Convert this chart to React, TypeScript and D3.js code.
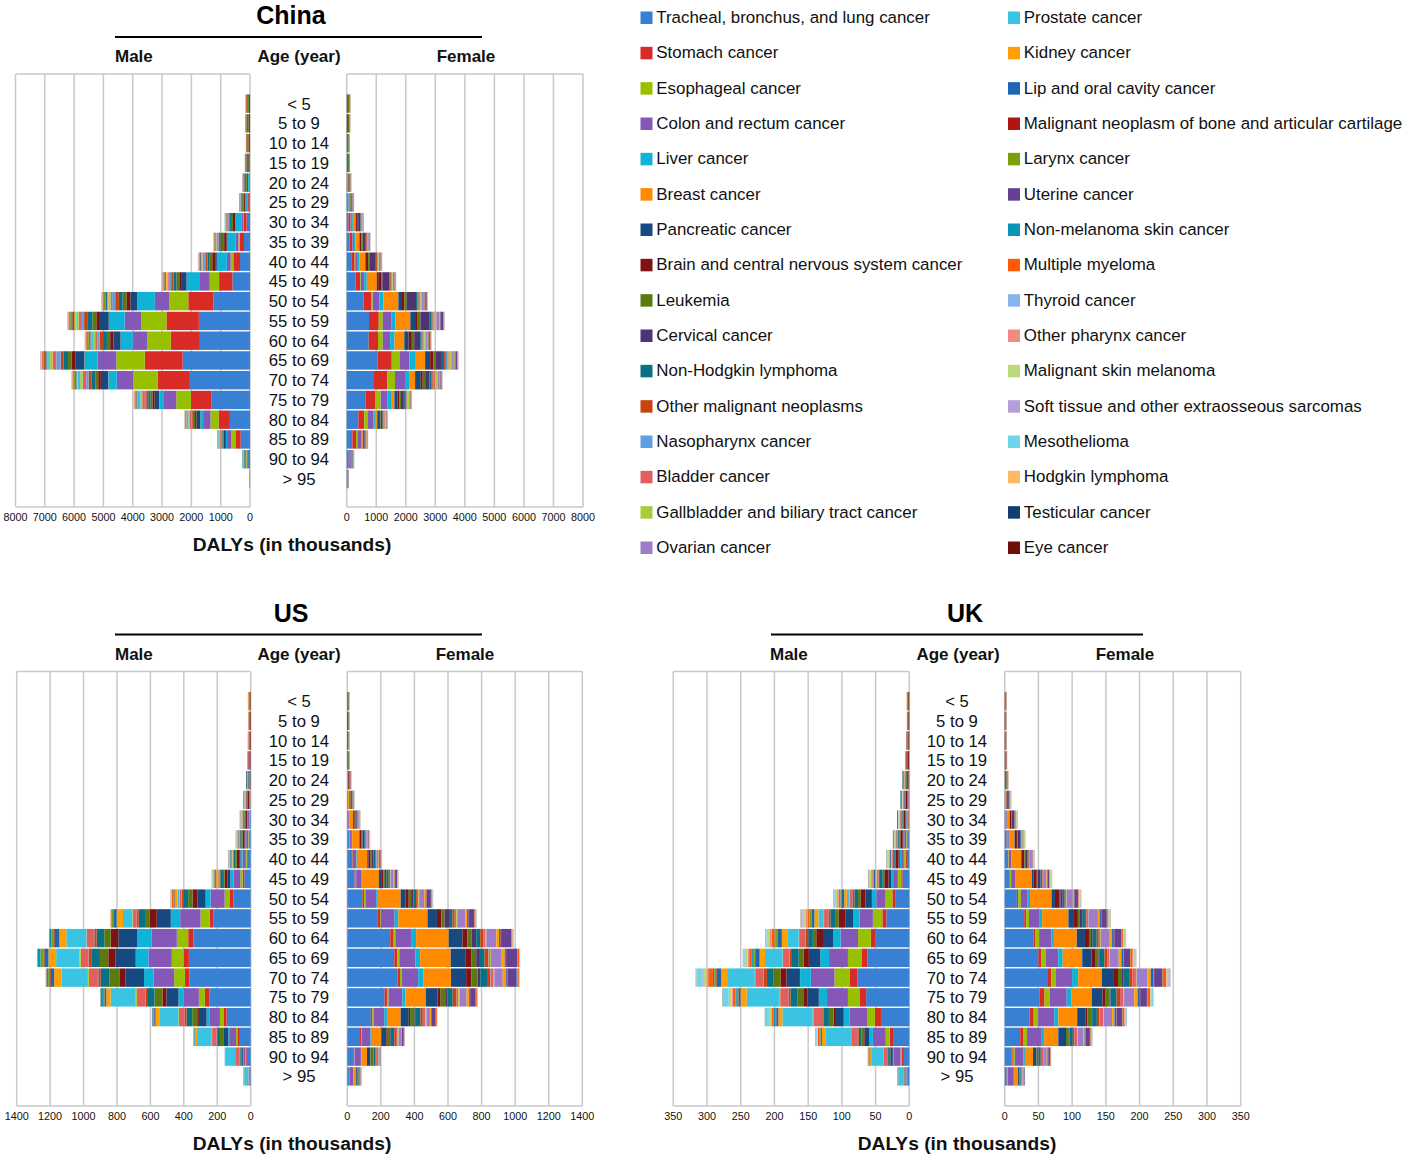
import * as d3 from "d3"

const ages = ["< 5", "5 to 9", "10 to 14", "15 to 19", "20 to 24", "25 to 29", "30 to 34", "35 to 39", "40 to 44", "45 to 49", "50 to 54", "55 to 59", "60 to 64", "65 to 69", "70 to 74", "75 to 79", "80 to 84", "85 to 89", "90 to 94", "> 95"]

const cancers = ["Tracheal, bronchus, and lung cancer", "Stomach cancer", "Esophageal cancer", "Colon and rectum cancer", "Liver cancer", "Breast cancer", "Pancreatic cancer", "Brain and central nervous system cancer", "Leukemia", "Cervical cancer", "Non-Hodgkin lymphoma", "Other malignant neoplasms", "Nasopharynx cancer", "Bladder cancer", "Gallbladder and biliary tract cancer", "Ovarian cancer", "Prostate cancer", "Kidney cancer", "Lip and oral cavity cancer", "Malignant neoplasm of bone and articular cartilage", "Larynx cancer", "Uterine cancer", "Non-melanoma skin cancer", "Multiple myeloma", "Thyroid cancer", "Other pharynx cancer", "Malignant skin melanoma", "Soft tissue and other extraosseous sarcomas", "Mesothelioma", "Hodgkin lymphoma", "Testicular cancer", "Eye cancer"]

const colors = ["#3880d4", "#d92b26", "#96c000", "#8558b8", "#0fb3d8", "#ff8a00", "#15497f", "#7f1212", "#5a7a0e", "#4e3472", "#0a7085", "#c94310", "#5ea0e3", "#e35e5e", "#a6cd3c", "#9e7cc9", "#3bc3e3", "#ffa000", "#2166b4", "#b21510", "#78a20c", "#664193", "#0a94b5", "#ff5a0a", "#86b4eb", "#ee8b87", "#bcd97a", "#b49fd8", "#6fd3ea", "#ffb866", "#123f6e", "#6e0f0a"]

// one row per age group, one value per cancer in legend order (DALYs, thousands)
const chinaMale = [
  [0,0,0,0,5,0,0,35,55,0,15,25,1,1,0,0,0,5,0,3,0,0,0,0,0,0,0,5,0,2,2,2],
  [0,0,0,0,5,0,0,45,60,0,15,20,1,0,0,0,0,2,0,8,0,0,0,0,0,0,0,5,0,3,1,1],
  [1,1,0,1,5,0,0,35,50,0,12,15,2,0,0,0,0,1,1,12,0,0,0,0,0,0,0,4,0,2,1,0],
  [3,3,0,3,10,0,0,40,60,0,12,15,4,0,0,0,0,1,1,15,0,0,0,1,0,0,0,4,0,2,3,0],
  [10,15,1,12,35,0,2,35,65,0,20,20,10,1,1,0,0,2,2,12,0,0,0,1,1,1,1,5,0,3,4,0],
  [30,35,3,25,75,0,5,40,55,0,20,25,20,2,2,0,0,3,4,9,1,0,0,2,1,2,1,6,0,3,4,0],
  [115,90,15,60,215,1,15,70,70,0,40,45,50,4,6,0,0,8,12,12,4,0,1,3,2,5,2,7,0,4,5,0],
  [205,150,40,90,280,2,30,85,75,0,55,60,70,8,12,0,1,12,20,12,8,0,1,6,3,8,3,8,1,4,4,0],
  [340,230,90,130,340,3,55,100,85,0,75,75,85,15,20,0,2,20,30,12,18,0,2,10,4,12,4,9,1,5,3,0],
  [600,455,320,330,455,4,160,90,95,0,95,85,85,30,35,0,4,30,35,15,30,0,3,15,4,15,4,10,2,5,2,0],
  [1250,855,650,490,590,6,240,137,125,0,130,125,105,55,60,0,10,45,45,18,50,0,5,25,5,25,5,12,2,5,2,1],
  [1745,1105,866,560,535,8,300,125,135,0,150,130,105,75,80,0,25,55,50,20,65,0,8,30,5,30,5,12,2,5,1,1],
  [1710,990,800,500,410,6,240,115,110,0,130,115,80,75,75,0,35,50,40,18,60,0,8,25,4,22,4,10,2,4,1,1],
  [2300,1290,970,640,445,8,310,115,130,0,160,90,150,130,90,0,60,50,40,40,40,0,10,30,5,20,5,15,5,5,2,2],
  [2050,1105,830,560,285,8,250,90,100,0,120,110,80,120,85,0,85,40,35,20,45,0,12,25,4,15,4,10,2,3,1,1],
  [1310,705,500,420,160,6,150,80,65,0,75,70,45,90,60,0,85,25,20,15,30,0,10,18,3,10,3,8,1,2,1,1],
  [685,390,275,250,90,4,135,45,40,0,40,35,20,60,30,0,65,12,10,8,15,0,8,8,2,5,2,4,1,1,0,0],
  [320,180,135,150,35,2,70,18,20,0,20,25,8,35,18,0,50,6,5,3,8,0,6,3,1,2,1,2,0,1,0,0],
  [80,35,25,30,8,1,15,4,5,0,5,7,2,12,5,0,28,2,1,1,2,0,3,1,0,1,0,1,0,0,0,0],
  [6,3,2,3,1,0,1,0,1,0,1,1,0,1,1,0,3,0,0,0,0,0,1,0,0,0,0,0,0,0,0,0],
]

const chinaFemale = [
  [0,0,0,0,4,0,0,30,50,0,10,20,0,1,0,1,0,5,0,2,0,0,0,0,0,0,0,5,0,1,0,2],
  [0,0,0,0,4,0,0,35,45,0,8,14,1,0,0,2,0,2,0,7,0,0,0,0,0,0,0,4,0,1,0,1],
  [1,1,0,1,4,0,0,25,35,0,6,10,1,0,0,4,0,1,1,10,0,0,0,0,1,0,0,3,0,1,0,0],
  [2,2,0,2,5,0,0,25,38,0,6,10,2,0,0,6,0,1,1,10,0,0,0,0,1,0,0,3,0,1,0,0],
  [6,10,1,8,10,5,1,22,40,5,8,12,4,0,1,8,0,1,1,7,0,1,0,0,2,0,1,3,0,1,0,0],
  [16,25,1,20,16,22,2,25,35,22,10,14,8,1,2,10,0,2,2,6,0,2,0,1,4,1,1,4,0,1,0,0],
  [60,65,4,45,35,90,8,40,40,75,16,24,16,2,6,18,0,4,5,6,1,6,1,2,6,2,2,5,0,2,0,0],
  [100,80,10,60,45,130,14,55,50,100,20,30,22,3,10,25,0,6,8,6,1,10,1,3,7,3,3,5,0,2,0,0],
  [175,95,20,85,60,195,25,70,60,180,32,38,30,5,18,40,0,10,10,6,2,18,1,6,8,4,3,5,1,2,0,0],
  [305,145,25,115,90,340,45,100,40,240,30,30,30,8,20,40,0,10,10,5,2,20,1,8,6,4,2,4,1,1,0,0],
  [565,260,55,225,135,510,90,113,80,315,45,45,45,15,40,75,0,20,15,8,3,50,2,18,8,5,3,6,1,2,0,0],
  [755,330,135,285,150,500,160,90,90,315,55,45,40,25,60,95,0,28,18,10,4,70,3,25,8,6,3,8,2,2,0,1],
  [745,315,160,250,150,330,145,110,80,205,45,35,30,25,55,65,0,20,15,8,3,40,3,18,6,4,2,6,1,1,0,1],
  [1050,475,260,340,215,315,170,113,80,205,75,60,50,45,95,80,0,28,25,12,5,35,5,22,8,6,3,8,2,2,0,1],
  [925,450,260,340,160,180,190,70,80,145,60,55,35,45,80,50,0,25,20,10,3,25,6,16,6,4,2,6,1,1,0,1],
  [645,315,190,235,115,115,100,70,50,100,35,35,20,35,55,25,0,15,12,6,2,10,6,8,3,2,1,3,0,1,0,0],
  [395,200,125,180,55,80,65,30,25,40,25,30,12,28,35,15,0,10,10,4,2,6,6,4,2,1,1,2,0,1,0,0],
  [190,125,45,135,22,28,30,12,10,22,12,20,5,20,15,6,0,5,6,2,1,3,6,2,1,1,0,1,0,0,0,0],
  [70,35,12,55,6,8,8,3,3,8,4,9,2,9,6,3,0,2,2,1,0,1,5,1,0,0,0,0,0,0,0,0],
  [10,12,3,22,2,3,2,1,1,3,1,4,0,4,2,1,0,1,1,0,0,0,3,0,0,0,0,0,0,0,0,0],
]

const usMale = [
  [0,0,0,0,1,0,0,5,4,0,1,2,0,0,0,0,0,3,0,0,0,0,0,0,0,0,0,1,0,0,0,0],
  [0,0,0,0,0,0,0,6,4,0,1,1,0,0,0,0,0,2,0,1,0,0,0,0,0,0,0,1,0,0,0,0],
  [0,0,0,0,0,0,0,5,4,0,1,1,0,0,0,0,0,1,0,2,0,0,0,0,0,0,0,1,0,1,1,0],
  [0,0,0,0,1,0,0,4,5,0,2,1,0,0,0,0,0,0,0,3,0,0,0,0,0,0,0,1,0,1,2,0],
  [0,0,0,1,1,0,0,5,6,0,3,2,0,0,0,0,0,0,0,2,0,0,0,0,0,0,1,1,0,2,4,0],
  [1,1,1,3,2,0,1,7,5,0,5,3,0,0,0,0,0,1,1,1,0,0,0,0,0,1,2,2,0,2,4,0],
  [4,2,2,8,4,0,2,10,6,0,6,3,1,1,0,0,0,2,2,1,0,0,1,0,0,1,3,2,0,2,2,0],
  [9,3,3,12,6,0,4,12,6,0,8,4,1,1,1,0,0,3,3,1,1,0,1,1,0,2,3,2,0,2,1,0],
  [18,5,6,20,12,0,8,14,7,0,10,4,1,3,1,0,1,5,5,1,1,0,2,2,0,3,3,2,0,1,1,0],
  [38,10,14,40,20,0,16,18,10,0,16,5,1,6,1,0,3,9,5,1,2,0,3,4,0,4,4,3,1,1,0,0],
  [104,20,32,84,30,0,48,30,26,0,30,8,2,12,2,0,10,14,4,2,4,0,3,6,0,4,4,2,1,1,0,0],
  [222,24,54,122,56,0,84,44,26,0,38,10,2,22,4,0,56,38,16,4,10,0,2,4,0,1,1,0,0,0,0,0],
  [342,32,68,150,86,0,114,46,38,0,46,14,2,42,3,0,120,42,28,4,16,0,12,1,0,1,0,0,0,0,0,0],
  [370,32,70,140,76,0,122,42,50,0,52,14,2,46,8,0,140,46,24,4,20,0,18,1,0,1,0,0,0,0,0,0],
  [366,28,64,124,56,0,112,36,58,0,54,14,2,54,6,0,158,44,20,4,12,0,10,2,0,1,1,1,1,0,0,0],
  [248,26,36,90,32,0,72,24,48,0,44,10,2,48,8,0,150,26,10,2,8,0,14,1,0,1,0,1,1,0,0,0],
  [144,16,24,64,16,0,46,10,30,0,34,10,1,34,4,0,114,22,8,1,3,0,8,1,0,0,0,1,0,0,0,0],
  [70,10,8,36,10,0,26,4,20,0,16,4,1,26,2,0,88,12,3,0,1,0,5,0,0,0,0,1,0,0,0,0],
  [24,4,3,10,3,0,7,2,7,0,6,2,0,20,0,0,60,3,1,0,0,0,3,0,0,0,0,0,0,0,0,0],
  [3,1,0,3,0,0,1,0,1,0,1,1,0,2,0,0,26,1,0,0,0,0,3,0,0,0,0,0,0,0,0,0],
]

const usFemale = [
  [0,0,0,0,1,0,0,5,3,0,1,1,0,0,0,0,0,3,0,0,0,0,0,0,0,0,0,1,0,0,0,0],
  [0,0,0,0,0,0,0,5,4,0,1,1,0,0,0,0,0,1,0,1,0,0,0,0,0,0,0,1,0,0,0,0],
  [0,0,0,0,0,0,0,4,3,0,1,1,0,0,0,1,0,0,0,2,0,0,0,0,0,0,0,1,0,1,0,0],
  [0,0,0,0,1,0,0,4,4,0,1,1,0,0,0,1,0,0,0,2,0,0,0,0,0,0,0,1,0,1,0,0],
  [0,0,0,1,1,2,0,5,5,1,2,2,0,0,0,2,0,0,0,1,0,0,0,0,1,0,2,1,0,2,0,0],
  [1,0,0,3,1,7,1,6,4,5,3,2,0,0,0,3,0,1,0,1,0,1,0,0,1,0,3,2,0,1,0,0],
  [5,1,0,7,1,20,1,9,4,8,4,3,0,0,0,5,0,1,1,1,0,2,0,0,1,0,3,2,0,1,0,0],
  [12,2,1,12,2,42,3,11,5,11,6,4,0,1,1,7,0,2,1,1,0,4,0,1,1,1,3,2,0,1,0,0],
  [28,4,1,20,4,62,7,13,7,11,8,5,0,1,2,12,0,3,2,1,0,7,0,2,1,1,3,2,0,1,0,0],
  [44,6,3,30,5,100,14,12,10,10,13,7,0,2,3,17,0,5,2,1,1,11,0,3,1,1,3,2,0,1,0,0],
  [90,10,8,64,10,136,30,18,14,14,16,10,0,4,4,30,0,8,4,2,1,25,0,5,1,1,3,3,0,1,0,0],
  [182,14,4,82,22,174,56,26,20,26,20,14,1,8,6,48,0,10,5,2,1,36,1,6,1,1,2,2,1,1,0,0],
  [256,20,10,98,26,194,82,30,24,28,24,20,2,8,6,60,0,16,8,3,1,60,2,6,1,1,2,2,1,1,0,0],
  [280,18,12,96,28,182,90,32,30,22,28,22,2,8,6,60,0,22,3,4,1,66,3,8,1,1,2,2,1,0,0,0],
  [300,14,12,96,30,166,90,32,36,16,40,20,2,14,8,50,0,18,6,3,1,55,5,8,1,1,1,2,1,0,0,0],
  [222,14,10,82,18,122,70,18,32,8,32,20,1,12,8,42,0,14,4,2,1,32,4,6,1,1,1,1,0,0,0,0],
  [140,10,8,62,16,82,48,8,26,4,32,14,1,14,6,22,0,6,4,1,0,22,3,5,0,0,1,1,0,0,0,0],
  [76,8,2,52,8,56,30,4,20,4,20,10,0,10,6,14,0,4,2,0,0,10,3,2,0,0,0,1,0,0,0,0],
  [36,6,1,38,4,32,20,2,16,2,10,8,0,8,3,6,0,1,1,0,0,2,1,1,0,0,0,0,0,0,0,0],
  [12,2,0,22,1,16,8,1,5,0,4,4,0,4,1,1,0,0,0,0,0,1,2,0,0,0,0,0,0,0,0,0],
]

const ukMale = [
  [0,0,0,0,0,0,0,1.5,1,0,0.5,0.5,0,0,0,0,0,0.3,0,0,0,0,0,0,0,0,0,0.2,0,0,0,0],
  [0,0,0,0,0,0,0,1.5,1,0,0.4,0.3,0,0,0,0,0,0,0,0.3,0,0,0,0,0,0,0,0.2,0,0,0,0],
  [0,0,0,0,0,0,0,1.5,1.2,0,0.4,0.3,0,0,0,0,0,0,0,0.8,0,0,0,0,0,0,0,0.3,0,0.2,0.2,0],
  [0.1,0,0,0.1,0.1,0,0,1.5,1.5,0,0.5,0.3,0,0,0,0,0,0,0,1,0,0,0,0,0,0,0.1,0.3,0,0.3,0.5,0],
  [0.2,0.2,0.1,0.5,0.2,0,0,2,1.5,0,0.8,0.5,0,0.1,0,0,0,0.1,0.1,0.7,0,0,0,0,0,0.1,0.5,0.5,0,0.5,1.5,0],
  [0.4,0.4,0.3,1,0.4,0,0.2,2.5,1.2,0,1,0.7,0,0.2,0,0,0,0.3,0.2,0.4,0,0,0,0,0,0.1,1,0.6,0.1,0.5,1.5,0],
  [0.8,0.8,0.8,2,0.7,0,0.4,3.2,1.4,0,1.4,0.8,0.1,0.3,0,0,0,0.4,0.4,0.3,0.1,0,0.1,0.1,0,0.2,1.5,0.6,0.1,0.5,1,0.1],
  [1.8,1.2,1.6,3,1.2,0,0.9,3.6,1.4,0,1.8,1,0.1,0.5,0.1,0,0,0.6,0.7,0.3,0.2,0,0.1,0.2,0,0.5,1.6,0.6,0.1,0.4,0.7,0.1],
  [3.5,1.6,3,4,2,0,1.8,4,1.6,0,2.4,1.2,0.1,0.8,0.1,0,0.2,1,1.2,0.2,0.3,0,0.1,0.4,0,0.8,1.8,0.7,0.2,0.3,0.4,0.1],
  [10,2,5,7,3,0,4,6,2.5,0,4,2,0.2,2,0.2,0,0.8,2,2.2,0.3,0.8,0,0.2,0.9,0.1,1.5,2.5,0.8,0.3,0.3,0.3,0.1],
  [21,4,11,13,6.5,0,9.5,7.5,3.5,0,5.5,3,0.3,3.5,0.3,0,4,4,3.5,0.5,1.5,0,0.4,2,0.1,2.5,3,1,1,0.3,0.2,0.1],
  [34,6,14,20,9,0,12,10,5,0,7,3,0.4,6,0.4,0,8,6,4,0.6,2,0,0.6,3,0.1,3,4,1.2,1.5,0.3,0.2,0.1],
  [50,7,19,26,11,0,15,10,5,0,7,4,0.4,9,0.6,0,17,8,6,0.8,3,0,1,4,0.2,3.5,3,1.3,1.5,0.3,0.1,0.1],
  [62,9,20,28,13,0,17,8,7,0,10,3,0.4,10,0.6,0,26,8,6,1,3,0,1.5,4,0.2,2,3,1.5,2,0.4,0.1,0.1],
  [77,11,23,35,16,0.2,20,9,10,0,10,5,0.4,12,0.6,0,41,9,6,1,3,0,2,7,0.2,2.5,4,2,9,0.4,0.1,0.2],
  [64,10,17,31,12,0.2,17,5,10,0,10,3,0.3,12,0.7,0,49,9,3,0.6,2,0,2,4,0.1,1.5,3,1.5,9,0.2,0.1,0.2],
  [42,9,11,27,8,0.2,13,2,7,0,8,2,0.2,13,0.8,0,45,6,3,0.4,1.5,0,2,3,0.1,0.8,2,1.2,6,0.2,0,0.1],
  [23,6,6,19,5,0.1,7,1,4,0,4,1,0.1,10,0.4,0,38,5,1.5,0.2,0.6,0,1.5,2,0,0.4,1,0.6,2,0.1,0,0.1],
  [8,3,2,10,1.5,0,3.5,0.3,2,0,2,0.6,0,5.5,0.2,0,18,1.5,0.5,0,0.2,0,1.5,0.6,0,0.1,0.3,0.2,0.4,0,0,0],
  [3,0.6,0.4,1.8,0.3,0,0.6,0,0.4,0,0.4,0.2,0,1.2,0,0,7,0.3,0.1,0,0,0,1.2,0.1,0,0,0,0,0,0,0,0],
]

const ukFemale = [
  [0,0,0,0,0.1,0,0,1,0.9,0,0.2,0.3,0,0,0,0,0,0.4,0,0,0,0,0,0,0,0,0,0.2,0,0,0,0.1],
  [0,0,0,0,0,0,0,1.1,0.8,0,0.2,0.2,0,0,0,0,0,0.1,0,0.3,0,0,0,0,0,0,0,0.2,0,0,0,0],
  [0,0,0,0,0.1,0,0,1,0.9,0,0.2,0.2,0,0,0,0.1,0,0.1,0,0.4,0,0,0,0,0,0,0,0.2,0,0.1,0,0],
  [0,0,0,0.1,0.1,0,0,1,0.9,0.1,0.2,0.2,0,0,0,0.2,0,0,0,0.5,0,0,0,0,0,0,0.2,0.2,0,0.2,0,0],
  [0.2,0.1,0,0.3,0.1,0.2,0,1.5,0.8,0.4,0.3,0.3,0,0,0,0.4,0,0,0.1,0.4,0,0,0,0,0.1,0,0.5,0.3,0,0.3,0,0],
  [0.5,0.2,0.1,0.6,0.1,1.2,0.1,1.8,0.7,1.4,0.4,0.3,0,0,0,0.6,0,0.1,0.1,0.2,0,0.1,0,0,0.1,0.1,1,0.3,0,0.2,0,0],
  [1.2,0.4,0.2,1.2,0.2,4,0.3,2.5,0.9,3.2,0.7,0.4,0,0.1,0,1,0,0.2,0.2,0.2,0,0.2,0,0.1,0.2,0.1,1.3,0.4,0,0.2,0,0.1],
  [3,0.6,0.3,2.2,0.4,8,0.6,3,1,4,1,0.5,0,0.2,0.1,1.5,0,0.4,0.3,0.2,0,0.5,0,0.2,0.2,0.2,1.5,0.5,0,0.2,0,0.1],
  [5,0.7,0.6,3.5,0.7,14,1.2,3.5,1.2,3.5,1.4,0.7,0.1,0.3,0.1,2.5,0,0.6,0.5,0.2,0,1,0,0.3,0.2,0.3,1.6,0.5,0.1,0.2,0,0.1],
  [7,1,1.5,6,1,24,2.5,4.5,1.5,4,2.2,1,0.1,0.5,0.2,5,0,1,0.8,0.2,0.1,2,0.1,0.5,0.2,0.4,2,0.6,0.1,0.2,0,0.1],
  [18,2,4,10,3.5,32,5,6,2,3.5,3,1.5,0.1,1,0.4,9,0,1.5,1.2,0.2,0.2,4.5,0.1,1,0.2,0.6,2,0.6,0.2,0.2,0,0.1],
  [29,3,4,15,4.5,39,7,7,3,3.5,4,2.5,0.1,2,0.6,14,0,2.5,2,0.3,0.3,8,0.2,1.5,0.2,0.8,2,0.7,0.3,0.2,0,0.1],
  [43,2,6,18,4,34,12,6,3,2.5,6,3,0.1,2.5,0.7,13,0,3.5,2.5,0.3,0.4,10,0.3,2.5,0.2,0.8,2,0.8,0.6,0.2,0,0.1],
  [50,4.5,6,19,6.5,29,14,6,4,2,7,4,0.1,3,1,13,0,4,3,0.4,0.4,9,0.4,3.5,0.2,0.8,2,1,1.2,0.2,0,0.1],
  [63,6,7,24,9,35,18,6,6,2.5,8,5,0.1,5,1,16,0,5,4,0.5,0.5,12,0.6,5,0.2,0.8,2,1,2,0.2,0,0.2],
  [52,7,8,25,7,30,16,4.5,6,1.5,9,5,0.1,5,1,15,0,5,3,0.4,0.4,10,0.7,4,0.1,0.6,1.5,0.8,1.5,0.1,0,0.2],
  [37,6,6.5,24,6,28,12,3,6,1.2,7,3.5,0.1,6,1,12,0,3.5,2.5,0.3,0.3,8,0.8,3,0.1,0.4,1.2,0.6,1,0.1,0,0.1],
  [23,5,5,22,3.5,21,10,1.5,4,1,5,2,0.1,4.5,0.8,8,0,2,1.5,0.2,0.2,6,0.8,1.5,0.1,0.2,0.6,0.3,0.4,0,0,0.1],
  [10,2,3,13,2,12,5,0.5,2.5,0.5,3,1.5,0,3,0.4,4,0,1,1,0.1,0.1,2.5,0.6,0.7,0,0.1,0.3,0.2,0.1,0,0,0],
  [3,0.8,0.7,9,0.4,6,2,0.1,1,0.2,1.2,0.8,0,1.2,0.2,1.2,0,0.4,0.4,0,0,0.8,0.5,0.2,0,0,0.1,0,0,0,0,0],
]

const font = "'Liberation Sans', Arial, sans-serif"
const gridColor = "#c9c9c9"
const stack = d3.stack<number[], number>().keys(d3.range(cancers.length)).value((row, k) => row[k])
// two empty slots keep the gap above the first bar and below the last one
const slots = ["top", ...ages, "bottom"]

function ageScale(top: number, bandBottom: number) {
  return d3.scaleBand().domain(slots).range([top, bandBottom]).paddingInner(0.07).paddingOuter(0.035)
}

interface PyramidProps {
  rows: number[][]
  max: number
  step: number
  zero: number
  end: number
  top: number
  bottom: number
  bandBottom: number
}

function Pyramid({ rows, max, step, zero, end, top, bottom, bandBottom }: PyramidProps) {
  const x = d3.scaleLinear().domain([0, max]).range([zero, end])
  const y = ageScale(top, bandBottom)
  const ticks = d3.range(0, max + step, step)
  const series = stack(rows)

  return (
    <g>
      <line x1={zero} x2={end} y1={top} y2={top} stroke={gridColor} strokeWidth={1.5} />
      <line x1={zero} x2={end} y1={bottom} y2={bottom} stroke={gridColor} strokeWidth={1.5} />
      {ticks.map((t) => (
        <g key={t}>
          <line x1={x(t)} x2={x(t)} y1={top} y2={bottom} stroke={gridColor} strokeWidth={1.5} />
          <text x={x(t)} y={bottom + 14} textAnchor="middle" fontSize={10.8} fill="#111">
            {t}
          </text>
        </g>
      ))}
      {series.map((s, k) =>
        s.map((d, i) =>
          d[1] > d[0] ? (
            <rect
              key={`${k}-${i}`}
              x={Math.min(x(d[0]), x(d[1]))}
              width={Math.abs(x(d[1]) - x(d[0]))}
              y={y(ages[i])}
              height={y.bandwidth()}
              fill={colors[k]}
            />
          ) : null,
        ),
      )}
    </g>
  )
}

interface CountryProps {
  name: string
  titleX: number
  lineFrom: number
  lineTo: number
  maleX: number
  ageX: number
  labelX: number
  femaleX: number
  axisX: number
  top: number
  bottom: number
  bandBottom: number
}

function Country({ name, titleX, lineFrom, lineTo, maleX, ageX, labelX, femaleX, axisX, top, bottom, bandBottom }: CountryProps) {
  const y = ageScale(top, bandBottom)
  return (
    <g>
      <text x={titleX} y={top - 50} textAnchor="middle" fontSize={25} fontWeight="bold">
        {name}
      </text>
      <line x1={lineFrom} x2={lineTo} y1={top - 37} y2={top - 37} stroke="#000" strokeWidth={2.2} />
      <g fontSize={17} fontWeight="bold" fill="#111">
        <text x={maleX} y={top - 12}>Male</text>
        <text x={ageX} y={top - 12} textAnchor="middle">Age (year)</text>
        <text x={femaleX} y={top - 12} textAnchor="middle">Female</text>
      </g>
      {ages.map((a) => (
        <text key={a} x={labelX} y={y(a)! + y.bandwidth() / 2 + 6} textAnchor="middle" fontSize={16.7} fill="#111">
          {a}
        </text>
      ))}
      <text x={axisX} y={bottom + 44} textAnchor="middle" fontSize={19.2} fontWeight="bold" fill="#111">
        DALYs (in thousands)
      </text>
    </g>
  )
}

function Legend() {
  const half = cancers.length / 2
  const row = d3.scaleLinear().domain([0, half - 1]).range([17.5, 547.5])
  return (
    <g>
      {cancers.map((c, i) => {
        const col = i < half ? 640.5 : 1008
        const yy = row(i < half ? i : i - half)
        return (
          <g key={c}>
            <rect x={col} y={yy - 6} width={12} height={12.5} fill={colors[i]} />
            <text x={col + 15.8} y={yy + 5.5} fontSize={16.9} fill="#111">
              {c}
            </text>
          </g>
        )
      })}
    </g>
  )
}

export default function App() {
  return (
    <svg width={1403} height={1157} style={{ position: "absolute", left: 0, top: 0, background: "#fff" }} fontFamily={font}>
      <Country name="China" titleX={291} lineFrom={115} lineTo={482} maleX={115} ageX={299} labelX={299} femaleX={466} axisX={292} top={74} bottom={507} bandBottom={508.6} />
      <Pyramid rows={chinaMale} max={8000} step={1000} zero={250} end={15.5} top={74} bottom={507} bandBottom={508.6} />
      <Pyramid rows={chinaFemale} max={8000} step={1000} zero={346.7} end={583} top={74} bottom={507} bandBottom={508.6} />

      <Country name="US" titleX={291} lineFrom={115} lineTo={482} maleX={115} ageX={299} labelX={299} femaleX={465} axisX={292} top={671.5} bottom={1106} bandBottom={1106} />
      <Pyramid rows={usMale} max={1400} step={200} zero={250.7} end={16.7} top={671.5} bottom={1106} bandBottom={1106} />
      <Pyramid rows={usFemale} max={1400} step={200} zero={347.3} end={582.3} top={671.5} bottom={1106} bandBottom={1106} />

      <Country name="UK" titleX={965} lineFrom={771} lineTo={1143} maleX={770} ageX={958} labelX={957} femaleX={1125} axisX={957} top={671.5} bottom={1106} bandBottom={1106} />
      <Pyramid rows={ukMale} max={350} step={50} zero={909.3} end={673.3} top={671.5} bottom={1106} bandBottom={1106} />
      <Pyramid rows={ukFemale} max={350} step={50} zero={1004.7} end={1240.7} top={671.5} bottom={1106} bandBottom={1106} />

      <Legend />
    </svg>
  )
}
